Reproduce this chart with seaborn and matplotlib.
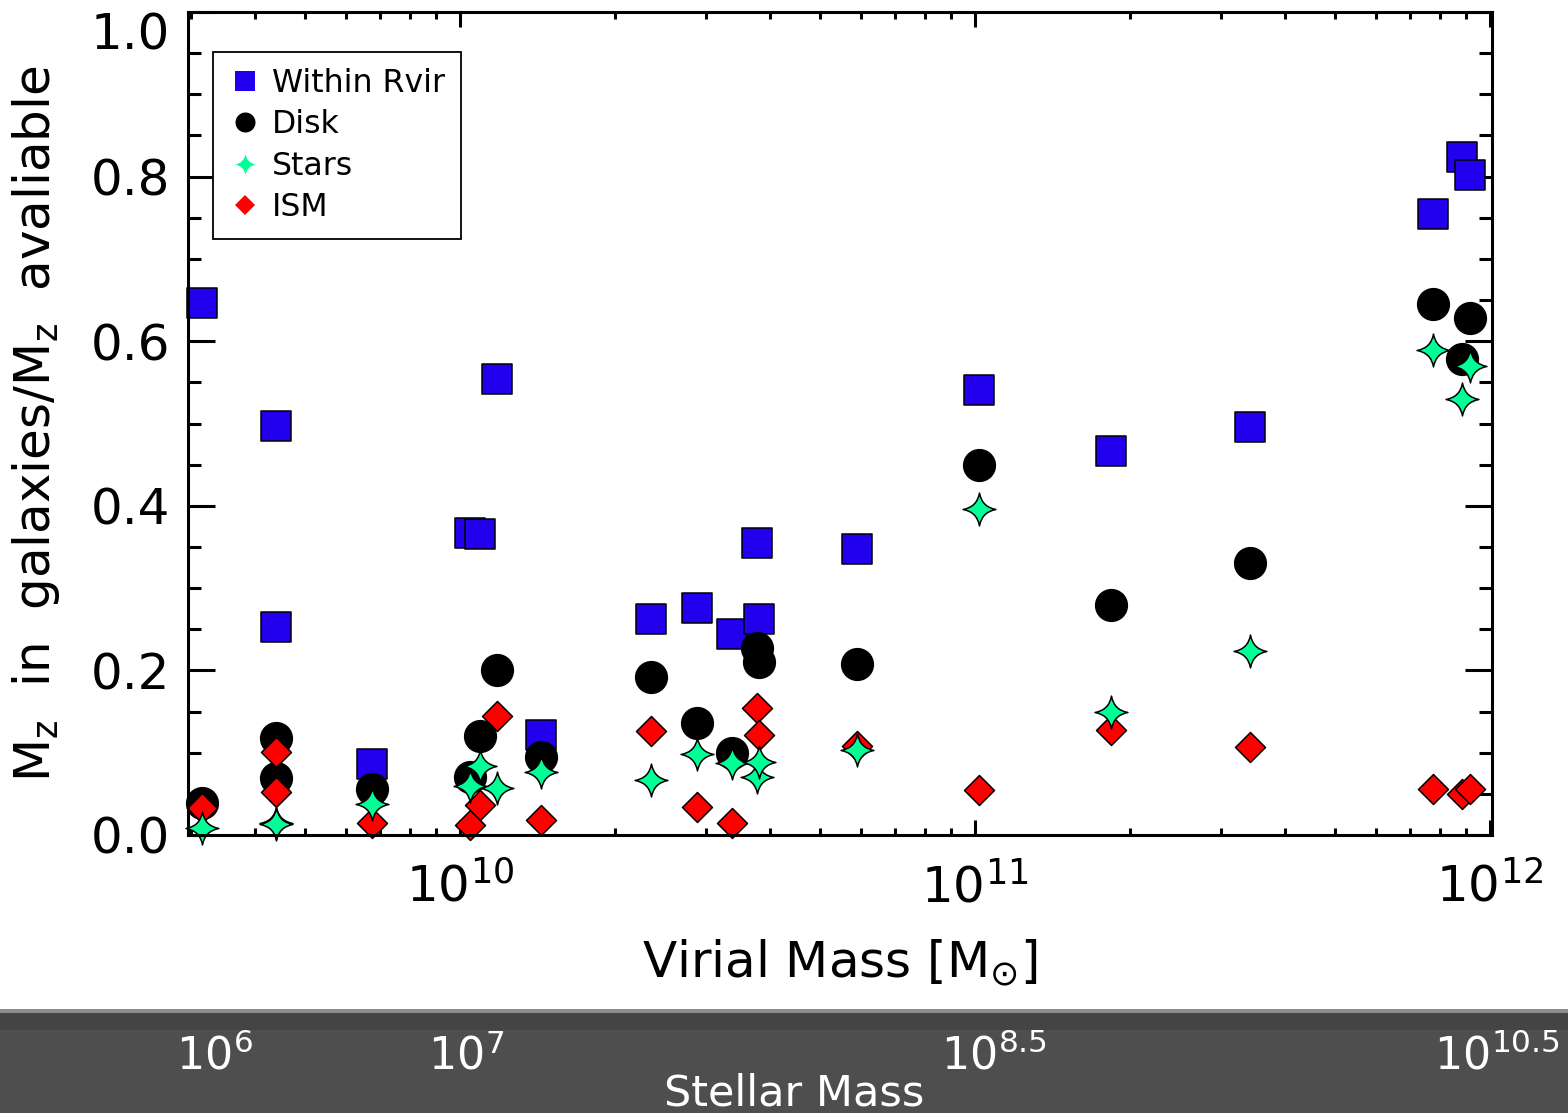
import numpy as np
import matplotlib
matplotlib.use("Agg")
import matplotlib.pyplot as plt
from matplotlib.path import Path
from matplotlib.lines import Line2D
from matplotlib.patches import Rectangle
from matplotlib.ticker import LogLocator, MultipleLocator, FormatStrFormatter, NullFormatter
import seaborn as sns

# Halo virial masses [Msun] of the simulated galaxies
virial_mass = [3.16e9, 4.40e9, 4.40e9, 6.75e9, 1.045e10, 1.094e10, 1.18e10, 1.435e10,
               2.35e10, 2.88e10, 3.37e10, 3.78e10, 3.81e10, 5.90e10, 1.02e11, 1.84e11,
               3.42e11, 7.74e11, 8.83e11, 9.14e11]
# Fraction of the available metal mass found in each component
within_rvir = [0.646, 0.497, 0.253, 0.086, 0.367, 0.366, 0.554, 0.121, 0.263, 0.276,
               0.244, 0.355, 0.262, 0.347, 0.541, 0.467, 0.496, 0.755, 0.824, 0.802]
disk = [0.039, 0.118, 0.069, 0.056, 0.070, 0.120, 0.200, 0.095, 0.192, 0.136,
        0.100, 0.227, 0.210, 0.208, 0.450, 0.279, 0.331, 0.645, 0.578, 0.628]
stars = [0.008, 0.015, 0.013, 0.038, 0.059, 0.084, 0.057, 0.076, 0.067, 0.099,
         0.087, 0.070, 0.089, 0.103, 0.396, 0.150, 0.224, 0.589, 0.530, 0.570]
ism = [0.033, 0.101, 0.052, 0.015, 0.012, 0.036, 0.144, 0.018, 0.126, 0.034,
       0.015, 0.154, 0.122, 0.108, 0.055, 0.128, 0.107, 0.056, 0.050, 0.056]

legend_labels = ["Within Rvir", "Disk", "Stars", "ISM"]
stellar_tick_labels = [r"$10^{6}$", r"$10^{7}$", r"$10^{8.5}$", r"$10^{10.5}$"]

BLUE = "#2200ee"
GREEN = "#00ff96"
RED = "#ff0000"

sns.set_style("ticks")
plt.rcParams["font.family"] = ["DejaVu Sans"]
plt.rcParams["mathtext.fontset"] = "dejavusans"
plt.rcParams["mathtext.default"] = "regular"
plt.rcParams["text.color"] = "black"
plt.rcParams["axes.labelcolor"] = "black"
plt.rcParams["xtick.color"] = "black"
plt.rcParams["ytick.color"] = "black"

# Four-pointed star with concave sides
c = 0.15
star_path = Path(
    [(0, 1), (c, c), (1, 0), (c, -c), (0, -1), (-c, -c), (-1, 0), (-c, c), (0, 1), (0, 1)],
    [Path.MOVETO, Path.CURVE3, Path.CURVE3, Path.CURVE3, Path.CURVE3,
     Path.CURVE3, Path.CURVE3, Path.CURVE3, Path.CURVE3, Path.CLOSEPOLY],
)

W, H = 1568, 1113
fig = plt.figure(figsize=(W / 100, H / 100), dpi=100)
ax = fig.add_axes([188 / W, (H - 835) / H, (1492 - 188) / W, (835 - 12) / H])

common = dict(ax=ax, legend=False, clip_on=False, edgecolor="black", linewidth=1.1)
sns.scatterplot(x=virial_mass, y=within_rvir, marker="s", s=497, color=BLUE, zorder=3, **common)
sns.scatterplot(x=virial_mass, y=disk, marker="o", s=520, color="black", zorder=4, **common)
sns.scatterplot(x=virial_mass, y=ism, marker="D", s=233, color=RED, zorder=5, **common)
sns.scatterplot(x=virial_mass, y=stars, marker=star_path, s=560, color=GREEN, zorder=6, **common)

ax.set_xscale("log")
ax.set_xlim(2.965e9, 1.009e12)
ax.set_ylim(0, 1.0)

ax.xaxis.set_major_locator(LogLocator(base=10, numticks=10))
ax.xaxis.set_minor_locator(LogLocator(base=10, subs=np.arange(2, 10), numticks=50))
ax.xaxis.set_minor_formatter(NullFormatter())
ax.yaxis.set_major_locator(MultipleLocator(0.2))
ax.yaxis.set_minor_locator(MultipleLocator(0.05))
ax.yaxis.set_major_formatter(FormatStrFormatter("%.1f"))

ax.tick_params(axis="x", which="major", direction="in", length=10.8, width=2.2,
               top=True, bottom=True, pad=20, labelsize=36, color="black")
ax.tick_params(axis="x", which="minor", direction="in", length=5, width=2.2,
               top=True, bottom=True, color="black")
ax.tick_params(axis="y", which="major", direction="in", length=19.4, width=2.2,
               left=True, right=True, pad=13, labelsize=36, color="black")
ax.tick_params(axis="y", which="minor", direction="in", length=9.4, width=2.2,
               left=True, right=True, color="black")
for sp in ax.spines.values():
    sp.set_linewidth(2.2)
    sp.set_color("black")
    sp.set_zorder(10)

ax.set_xlabel(r"Virial Mass [M$_{\odot}$]", fontsize=36)
ax.set_ylabel(r"M$_{z}$  in  galaxies/M$_{z}$  avaliable", fontsize=36)
ax.xaxis.set_label_coords(0.5, -0.125)
ax.yaxis.set_label_coords(-0.0966, 0.5)

handles = [
    Line2D([], [], linestyle="none", marker="s", markersize=14, color=BLUE, markeredgewidth=0),
    Line2D([], [], linestyle="none", marker="o", markersize=14.4, color="black", markeredgewidth=0),
    Line2D([], [], linestyle="none", marker=star_path, markersize=15, color=GREEN, markeredgewidth=0),
    Line2D([], [], linestyle="none", marker="D", markersize=10, color=RED, markeredgewidth=0),
]
leg = ax.legend(handles, legend_labels, loc="upper left",
                bbox_to_anchor=((213 - 188) / 1304, (835 - 52) / 823),
                borderaxespad=0, fontsize=22.7, frameon=True, fancybox=False,
                framealpha=1, edgecolor="black", borderpad=0.5, handlelength=1.0,
                handletextpad=0.37, labelspacing=0.33)
leg.get_frame().set_linewidth(1.3)
leg.set_zorder(20)

# Stellar-mass band along the bottom of the figure
fig.patches.append(Rectangle((0, 0), 1, (H - 1010) / H, transform=fig.transFigure,
                             facecolor="#4e4e4e", edgecolor="none", zorder=0))
fig.patches.append(Rectangle((0, (H - 1030) / H), 1, 18 / H, transform=fig.transFigure,
                             facecolor="#444444", edgecolor="none", zorder=0))
fig.patches.append(Rectangle((0, (H - 1013) / H), 1, 4 / H, transform=fig.transFigure,
                             facecolor="#8c8c8c", edgecolor="none", zorder=0))
stellar_x = [176, 428, 941, 1560]
stellar_ha = ["left", "left", "left", "right"]
for px, lab, ha in zip(stellar_x, stellar_tick_labels, stellar_ha):
    fig.text(px / W, (H - 1070) / H, lab, color="white", fontsize=32,
             ha=ha, va="baseline")
fig.text(794 / W, (H - 1106) / H, "Stellar Mass", color="white", fontsize=31,
         ha="center", va="baseline")

fig.canvas.draw()
for t in ax.yaxis.get_major_ticks():
    if abs(t.get_loc() - 1.0) < 1e-6:
        t.label1.set_va("top")

fig.savefig("out.png", dpi=100)
